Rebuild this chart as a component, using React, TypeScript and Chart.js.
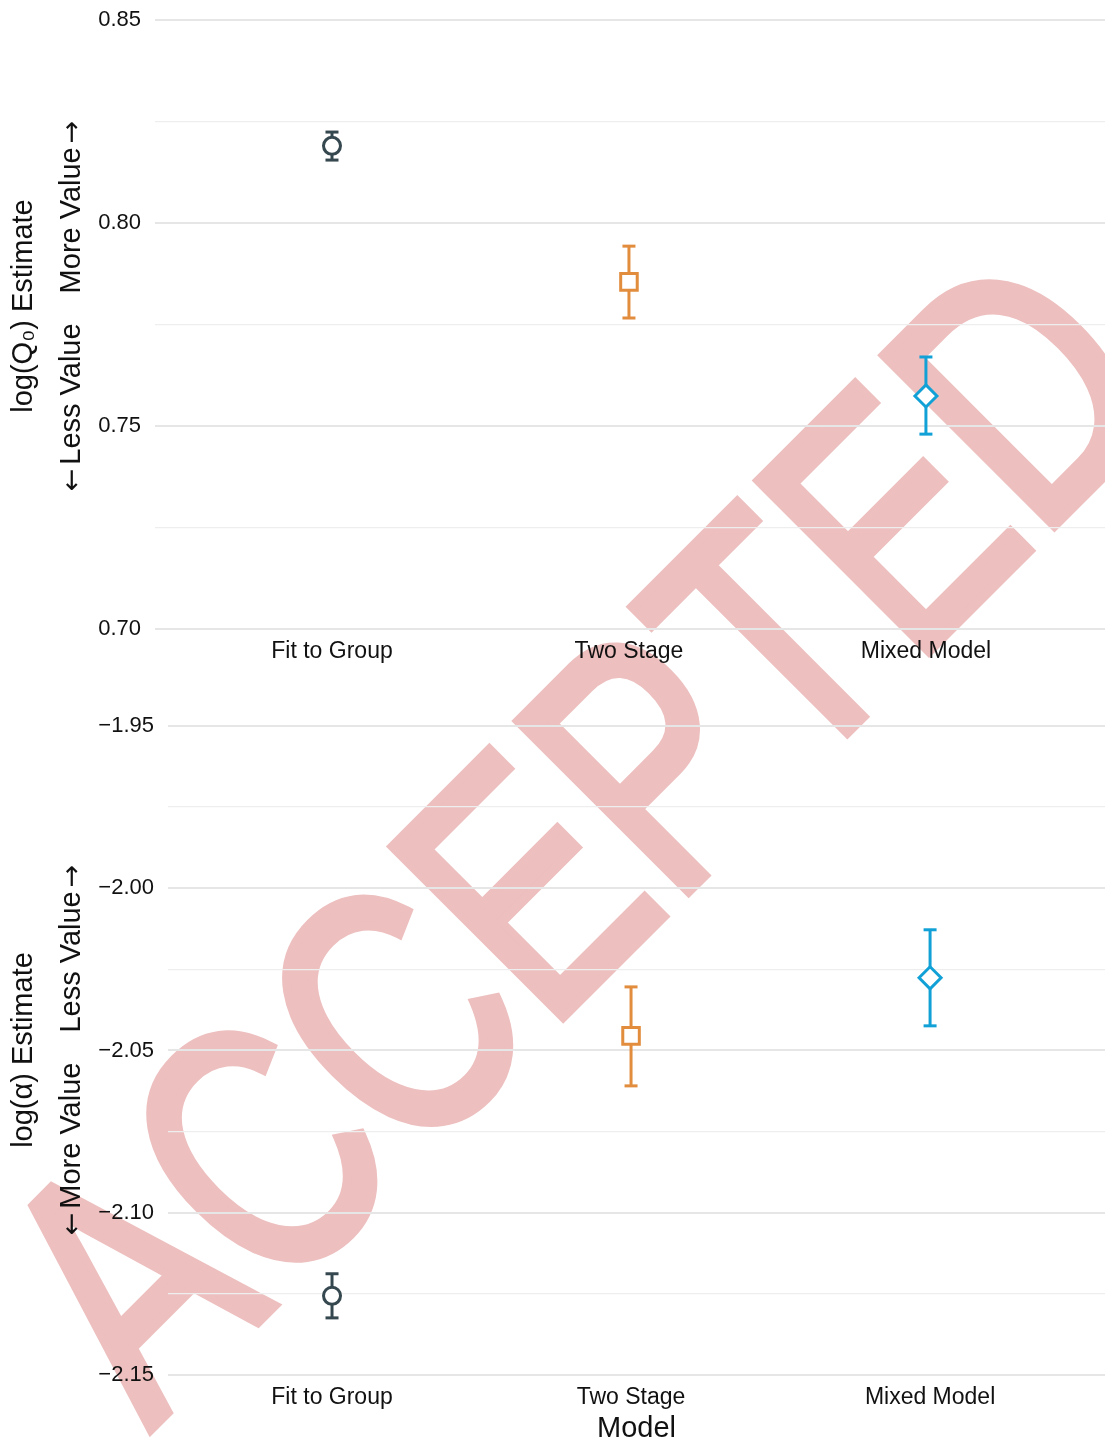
import React, { useEffect, useRef } from 'react';
import { Chart, registerables } from 'chart.js';

Chart.register(...registerables);

// ---------- data ----------
const categories = ['Fit to Group', 'Two Stage', 'Mixed Model'];
const categoryPositions = [1, 2, 3];

const q0Estimate = [0.819, 0.7855, 0.7574];
const q0Lower = [0.8155, 0.7766, 0.748];
const q0Upper = [0.8224, 0.7943, 0.767];

const alphaEstimate = [-2.1256, -2.0455, -2.0276];
const alphaLower = [-2.1324, -2.0609, -2.0424];
const alphaUpper = [-2.1188, -2.0304, -2.0128];

const q0Range = [0.7, 0.85];
const alphaRange = [-2.15, -1.95];
const tickStep = 0.025;

const q0Title = 'log(Q\u2080) Estimate';
const q0Direction = ['Less Value', 'More Value'];
const alphaTitle = 'log(\u03B1) Estimate';
const alphaDirection = ['More Value', 'Less Value'];
const xTitle = 'Model';
const watermark = 'ACCEPTED';

// ---------- styles ----------
const FONT = '"Liberation Sans", Arial, Helvetica, sans-serif';
const ARROW_FONT = '"DejaVu Sans", sans-serif';
const TITLE_SIZE = 29;
const seriesColors = ['#35474f', '#e28c3d', '#12a1d6'];
const seriesShapes = ['circle', 'rect', 'rectRot'];
const seriesRadius = [8.5, 11.7, 11];

// draws rotated (bottom-to-top) y titles made of text segments
const sideTitles = {
  id: 'sideTitles',
  afterDraw(chart: any, _args: any, opts: any) {
    const { ctx } = chart;
    ctx.save();
    ctx.fillStyle = '#111';
    ctx.textBaseline = 'middle';
    ctx.textAlign = 'left';
    opts.lines.forEach((segs: any[], i: number) => {
      let total = 0;
      const widths = segs.map((s) => {
        if (typeof s === 'number') return s;
        ctx.font = s.f;
        return ctx.measureText(s.t).width;
      });
      widths.forEach((w: number) => (total += w));
      ctx.save();
      ctx.translate(opts.xs[i], opts.cy);
      ctx.rotate(-Math.PI / 2);
      let x = -total / 2;
      segs.forEach((s: any, k: number) => {
        if (typeof s !== 'number') {
          ctx.font = s.f;
          ctx.fillText(s.t, x, s.dy || 0);
        }
        x += widths[k];
      });
      ctx.restore();
    });
    ctx.restore();
  },
};

const textFont = `${TITLE_SIZE}px ${FONT}`;
const arrowFont = `${TITLE_SIZE - 2}px ${ARROW_FONT}`;
const titleLines = (main: string, dir: string[]) => [
  [{ t: main, f: textFont }],
  [
    { t: '\u2190', f: arrowFont, dy: 1 },
    4,
    { t: dir[0], f: textFont },
    30,
    { t: dir[1], f: textFont },
    4,
    { t: '\u2192', f: arrowFont, dy: 1 },
  ],
];

const isMajor = (v: number) => Math.round(Math.abs(v) * 1000) % 50 === 0;

function buildConfig(p: any) {
  const datasets: any[] = [];
  for (let i = 0; i < categories.length; i++) {
    datasets.push({
      label: categories[i],
      data: [{ x: categoryPositions[i], y: p.est[i] }],
      pointStyle: seriesShapes[i],
      pointRadius: seriesRadius[i],
      pointHoverRadius: seriesRadius[i],
      pointBorderWidth: 3,
      borderColor: seriesColors[i],
      pointBorderColor: seriesColors[i],
      backgroundColor: '#ffffff',
      pointBackgroundColor: '#ffffff',
      showLine: false,
      order: 0,
    });
  }
  for (let i = 0; i < categories.length; i++) {
    datasets.push({
      label: categories[i] + ' interval',
      data: [
        { x: categoryPositions[i], y: p.lo[i] },
        { x: categoryPositions[i], y: p.hi[i] },
      ],
      showLine: true,
      borderColor: seriesColors[i],
      borderWidth: 3,
      pointStyle: 'line',
      pointRadius: 6.5,
      pointHoverRadius: 6.5,
      pointBorderWidth: 3,
      pointBorderColor: seriesColors[i],
      order: 1,
    });
  }
  return {
    type: 'scatter',
    data: { datasets },
    plugins: [sideTitles],
    options: {
      responsive: false,
      animation: false,
      events: [],
      layout: { autoPadding: false, padding: { top: p.top, left: 0, right: 0, bottom: 0 } },
      plugins: {
        legend: { display: false },
        tooltip: { enabled: false },
        sideTitles: { lines: p.titleLines, xs: [24, 72], cy: p.titleCy },
      },
      scales: {
        x: {
          type: 'linear',
          min: p.xMin,
          max: p.xMax,
          afterBuildTicks: (s: any) => {
            s.ticks = categoryPositions.map((v) => ({ value: v }));
          },
          ticks: {
            callback: (_v: any, idx: number) => categories[idx],
            font: { size: 23, family: FONT },
            color: '#111',
            padding: 9,
            maxRotation: 0,
            autoSkip: false,
          },
          grid: { display: false, drawTicks: false },
          border: { display: false },
          title: {
            display: p.showXTitle,
            text: xTitle,
            font: { size: TITLE_SIZE, family: FONT },
            color: '#111',
            padding: { top: 0, bottom: -2 },
          },
          afterFit: (s: any) => {
            s.height = p.xHeight;
            s.paddingLeft = 0;
            s.paddingRight = 0;
          },
        },
        y: {
          type: 'linear',
          min: p.yMin,
          max: p.yMax,
          ticks: {
            stepSize: tickStep,
            autoSkip: false,
            callback: (v: number) => (isMajor(v) ? p.fmt(v) : ''),
            font: { size: 22, family: FONT },
            color: '#111',
            padding: 14,
          },
          grid: {
            drawTicks: false,
            color: (c: any) => (c.tick && isMajor(c.tick.value) ? '#e6e6e6' : '#eeeeee'),
            lineWidth: (c: any) => (c.tick && isMajor(c.tick.value) ? 2 : 1.3),
          },
          border: { display: false },
          afterFit: (s: any) => {
            s.width = p.yWidth;
            s.paddingTop = 0;
            s.paddingBottom = 0;
          },
        },
      },
    },
  };
}

const fmtPos = (v: number) => v.toFixed(2);
const fmtNeg = (v: number) => (v < 0 ? '\u2212' : '') + Math.abs(v).toFixed(2);

const WM_SIZE = 350;
const WM_BASE = WM_SIZE * 0.8465;

export default function App() {
  const topRef = useRef<HTMLCanvasElement>(null);
  const botRef = useRef<HTMLCanvasElement>(null);

  useEffect(() => {
    document.body.style.margin = '0';
    const top = new Chart(
      topRef.current as HTMLCanvasElement,
      buildConfig({
        est: q0Estimate,
        lo: q0Lower,
        hi: q0Upper,
        yMin: q0Range[0],
        yMax: q0Range[1],
        xMin: 0.404,
        xMax: 3.603,
        top: 20,
        yWidth: 155,
        xHeight: 51,
        titleLines: titleLines(q0Title, q0Direction),
        titleCy: 306,
        fmt: fmtPos,
        showXTitle: false,
      }) as any
    );
    const bot = new Chart(
      botRef.current as HTMLCanvasElement,
      buildConfig({
        est: alphaEstimate,
        lo: alphaLower,
        hi: alphaUpper,
        yMin: alphaRange[0],
        yMax: alphaRange[1],
        xMin: 0.4515,
        xMax: 3.585,
        top: 46,
        yWidth: 168,
        xHeight: 69,
        titleLines: titleLines(alphaTitle, alphaDirection),
        titleCy: 370,
        fmt: fmtNeg,
        showXTitle: true,
      }) as any
    );
    return () => {
      top.destroy();
      bot.destroy();
    };
  }, []);

  return (
    <div style={{ position: 'relative', width: 1105, height: 1444, overflow: 'hidden', background: '#fff' }}>
      <div
        style={{
          position: 'absolute',
          left: 150,
          top: 1430 - WM_BASE,
          fontFamily: FONT,
          fontSize: WM_SIZE,
          lineHeight: `${WM_SIZE}px`,
          color: '#edbfbf',
          WebkitTextStroke: '10px #edbfbf',
          whiteSpace: 'nowrap',
          transformOrigin: `0px ${WM_BASE}px`,
          transform: 'rotate(-45deg) scaleX(0.76)',
          pointerEvents: 'none',
        }}
      >
        {watermark}
      </div>
      <canvas ref={topRef} width={1105} height={680} style={{ position: 'absolute', left: 0, top: 0 }} />
      <canvas ref={botRef} width={1105} height={764} style={{ position: 'absolute', left: 0, top: 680 }} />
    </div>
  );
}
